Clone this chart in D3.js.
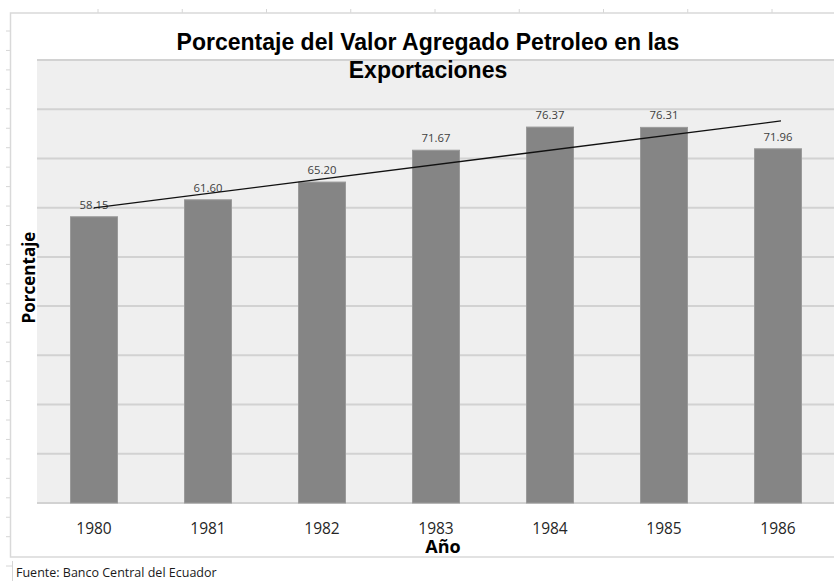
<!DOCTYPE html>
<html>
<head>
<meta charset="utf-8">
<script src="https://cdn.jsdelivr.net/npm/d3@7"></script>
<style>
  html, body { margin: 0; padding: 0; background: #ffffff; }
  svg { display: block; }
</style>
</head>
<body>
<div id="chart"></div>
<script>
// ---- data ----
const years = ["1980", "1981", "1982", "1983", "1984", "1985", "1986"];
const values = [58.15, 61.60, 65.20, 71.67, 76.37, 76.31, 71.96];
const yTicks = [0, 10, 20, 30, 40, 50, 60, 70, 80, 90];
const titleLines = ["Porcentaje del Valor Agregado Petroleo en las", "Exportaciones"];
const xTitle = "Año";
const yTitle = "Porcentaje";
const sourceText = "Fuente: Banco Central del Ecuador";

// ---- layout ----
const W = 834, H = 581;
const plot = { left: 37, right: 835, top: 60, bottom: 503 };

const svg = d3.select("#chart").append("svg")
  .attr("width", W).attr("height", H);

// spreadsheet decorations (cell edges)
const deco = svg.append("g").attr("stroke", "#d6d6d6").attr("stroke-width", 1);
d3.range(98, W, 84.25).forEach(x => {
  deco.append("line").attr("x1", x).attr("x2", x).attr("y1", 9).attr("y2", 13);
});
d3.range(31, 556, 19.45).forEach(y => {
  deco.append("line").attr("x1", 6).attr("x2", 10).attr("y1", y).attr("y2", y);
});
deco.append("line").attr("x1", 6).attr("x2", 12).attr("y1", 566).attr("y2", 566);
deco.append("line").attr("x1", 12.5).attr("x2", 12.5).attr("y1", 561).attr("y2", 581);

// chart area border
svg.append("path")
  .attr("d", `M${W + 2},13 H10.5 V557 H${W + 2}`)
  .attr("fill", "none").attr("stroke", "#d9d9d9").attr("stroke-width", 1.5);

// scales
const x = d3.scaleBand().domain(years)
  .range([plot.left, plot.right])
  .paddingInner(0.588).paddingOuter(0.294);
const y = d3.scaleLinear().domain([0, 90]).range([plot.bottom, plot.top]);

// plot background
svg.append("rect")
  .attr("x", plot.left).attr("y", plot.top)
  .attr("width", plot.right - plot.left).attr("height", plot.bottom - plot.top)
  .attr("fill", "#efefef");

// gridlines
svg.append("g").selectAll("line").data(yTicks).join("line")
  .attr("x1", plot.left).attr("x2", plot.right)
  .attr("y1", d => y(d)).attr("y2", d => y(d))
  .attr("stroke", "#d2d2d2").attr("stroke-width", 2);

// bars
svg.append("g").selectAll("rect").data(values).join("rect")
  .attr("x", (d, i) => x(years[i]))
  .attr("y", d => y(d))
  .attr("width", x.bandwidth())
  .attr("height", d => y(0) - y(d))
  .attr("fill", "#858585")
  .attr("stroke", "#9a9a9a").attr("stroke-width", 1);

// data labels
svg.append("g").selectAll("text").data(values).join("text")
  .attr("x", (d, i) => x(years[i]) + x.bandwidth() / 2)
  .attr("y", d => y(d) - 8)
  .attr("text-anchor", "middle")
  .attr("font-family", "'Open Sans', sans-serif")
  .attr("font-size", 11.3)
  .attr("fill", "#404040")
  .text(d => d.toFixed(2));

// linear trendline (least squares over the series)
const n = values.length;
const idx = d3.range(n);
const mx = d3.mean(idx), my = d3.mean(values);
const slope = d3.sum(idx, i => (i - mx) * (values[i] - my)) / d3.sum(idx, i => (i - mx) ** 2);
const intercept = my - slope * mx;
const cx = i => x(years[i]) + x.bandwidth() / 2;
svg.append("line")
  .attr("x1", cx(0)).attr("y1", y(intercept))
  .attr("x2", cx(n - 1) + 3).attr("y2", y(intercept + slope * (n - 1 + 3 / x.step())))
  .attr("stroke", "#111").attr("stroke-width", 1.3);

// x-axis tick labels
const xAxis = d3.axisBottom(x).tickSize(0).tickPadding(0);
const gx = svg.append("g").attr("transform", `translate(0,${plot.bottom})`).call(xAxis);
gx.select(".domain").remove();
gx.selectAll("text")
  .attr("y", 31).attr("dy", 0)
  .attr("font-family", "'Open Sans', sans-serif")
  .attr("font-size", 15.5)
  .attr("fill", "#262626");

// title
svg.append("g").selectAll("text").data(titleLines).join("text")
  .attr("x", 428).attr("y", (d, i) => 50 + i * 28)
  .attr("text-anchor", "middle")
  .attr("font-family", "'Liberation Sans', Arial, sans-serif")
  .attr("font-weight", "bold")
  .attr("font-size", 23)
  .attr("fill", "#000")
  .text(d => d);

// axis titles
svg.append("text")
  .attr("x", 443).attr("y", 553)
  .attr("text-anchor", "middle")
  .attr("font-family", "'Open Sans', sans-serif")
  .attr("font-weight", "bold")
  .attr("font-size", 18)
  .attr("fill", "#000")
  .text(xTitle);

svg.append("text")
  .attr("transform", "translate(35,277.5) rotate(-90)")
  .attr("text-anchor", "middle")
  .attr("font-family", "'Open Sans', sans-serif")
  .attr("font-weight", "bold")
  .attr("font-size", 17)
  .attr("fill", "#000")
  .text(yTitle);

// source
svg.append("text")
  .attr("x", 16).attr("y", 577)
  .attr("font-family", "'Open Sans', sans-serif")
  .attr("font-size", 12.5)
  .attr("fill", "#1a1a1a")
  .text(sourceText);
</script>
</body>
</html>
